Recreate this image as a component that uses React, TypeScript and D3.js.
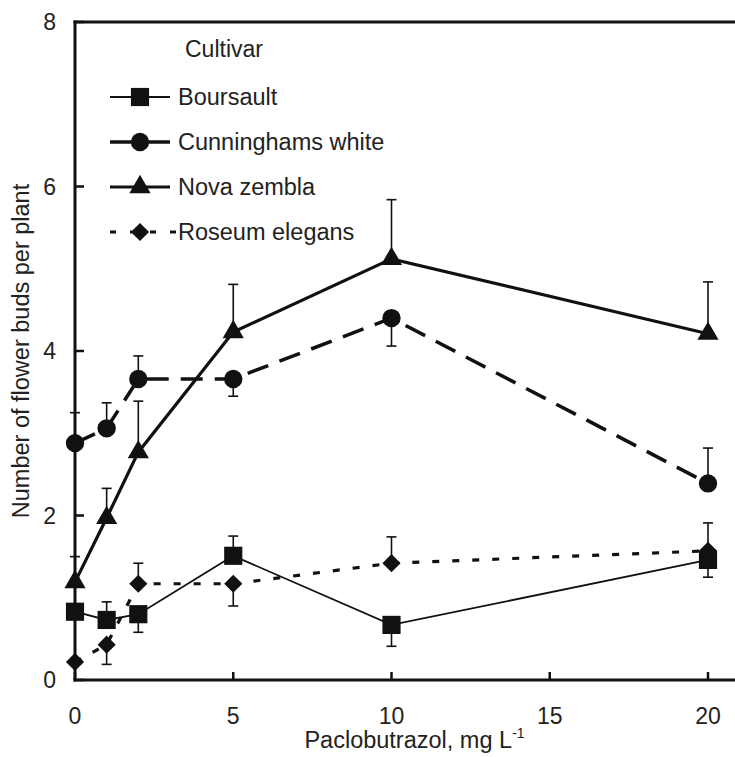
import React from "react";
import * as d3 from "d3";

const WIDTH = 735;
const HEIGHT = 757;

// paclobutrazol dose, mg/L
const doses = [0, 1, 2, 5, 10, 20];

// mean flower buds per plant
const boursault = [0.83, 0.73, 0.8, 1.51, 0.67, 1.46];
const cunninghams = [2.88, 3.06, 3.66, 3.66, 4.4, 2.39];
const novaZembla = [1.19, 1.97, 2.77, 4.23, 5.12, 4.21];
const roseum = [0.22, 0.43, 1.17, 1.17, 1.42, 1.57];

// one-sided standard errors (negative = drawn downward)
const boursaultErr = [0, 0.22, -0.22, 0.24, -0.26, -0.21];
const cunninghamsErr = [0.37, 0.31, 0.28, -0.21, -0.34, 0.43];
const novaZemblaErr = [0.31, 0.36, 0.62, 0.58, 0.72, 0.63];
const roseumErr = [0, -0.24, 0.25, -0.27, 0.32, 0.34];

const xTicks = [0, 5, 10, 15, 20];
const yTicks = [0, 2, 4, 6, 8];

const FONT = "'Liberation Sans', Arial, Helvetica, sans-serif";

type Series = {
  name: string;
  values: number[];
  errs: number[];
  marker: "square" | "circle" | "triangle" | "diamond";
  width: number;
  dash?: string;
  legendDash?: string;
};

const series: Series[] = [
  { name: "Boursault", values: boursault, errs: boursaultErr, marker: "square", width: 1.8 },
  { name: "Cunninghams white", values: cunninghams, errs: cunninghamsErr, marker: "circle", width: 3.5, dash: "22,12" },
  { name: "Nova zembla", values: novaZembla, errs: novaZemblaErr, marker: "triangle", width: 3.2 },
  { name: "Roseum elegans", values: roseum, errs: roseumErr, marker: "diamond", width: 3.2, dash: "7,13", legendDash: "6,14" },
];

const x = d3.scaleLinear().domain([0, 20]).range([75, 708]);
const y = d3.scaleLinear().domain([0, 8]).range([680, 22]);

const markerPath = (m: Series["marker"]) => {
  switch (m) {
    case "square":
      return d3.symbol(d3.symbolSquare, 330)()!;
    case "circle":
      return d3.symbol(d3.symbolCircle, 265)()!;
    case "triangle":
      return d3.symbol(d3.symbolTriangle, 195)()!;
    default:
      return d3.symbol(d3.symbolSquare, 165)()!;
  }
};

const Marker = ({ m, cx, cy }: { m: Series["marker"]; cx: number; cy: number }) => (
  <path
    d={markerPath(m)}
    fill="#111"
    transform={`translate(${cx},${cy})${m === "diamond" ? " rotate(45)" : ""}`}
  />
);

const App = () => {
  const line = d3
    .line<number>()
    .x((_, i) => x(doses[i]))
    .y(d => y(d));

  return (
    <div style={{ position: "absolute", left: 0, top: 0 }}>
      <svg width={WIDTH} height={HEIGHT} style={{ display: "block", background: "#fff" }} fontFamily={FONT}>
        {/* frame: left, bottom, top */}
        <g stroke="#111" strokeWidth={3} fill="none">
          <line x1={x(0)} x2={x(0)} y1={y(8) - 1.5} y2={y(0) + 1.5} />
          <line x1={x(0) - 1.5} x2={WIDTH} y1={y(0)} y2={y(0)} />
          <line x1={x(0) - 1.5} x2={WIDTH} y1={y(8)} y2={y(8)} />
        </g>

        {/* ticks */}
        <g stroke="#111" strokeWidth={2.5}>
          {xTicks.map(t => (
            <line key={`xt${t}`} x1={x(t)} x2={x(t)} y1={y(0)} y2={y(0) - 8} />
          ))}
          {yTicks.map(t => (
            <line key={`yt${t}`} x1={x(0)} x2={x(0) + 9} y1={y(t)} y2={y(t)} />
          ))}
        </g>
        <g fontSize={23} fill="#222">
          {xTicks.map(t => (
            <text key={`xl${t}`} x={x(t)} y={724} textAnchor="middle">
              {t}
            </text>
          ))}
          {yTicks.map(t => (
            <text key={`yl${t}`} x={56} y={y(t)} dy="0.35em" textAnchor="end">
              {t}
            </text>
          ))}
        </g>

        {/* axis titles */}
        <text x={(x(0) + x(20)) / 2 + 23} y={748} fontSize={23.5} textAnchor="middle" fill="#222">
          Paclobutrazol, mg L
          <tspan fontSize={14} dy={-10}>
            -1
          </tspan>
        </text>
        <text
          transform={`translate(29,${(y(0) + y(8)) / 2}) rotate(-90)`}
          fontSize={23.5}
          textAnchor="middle"
          fill="#222"
        >
          Number of flower buds per plant
        </text>

        {/* error bars */}
        <g stroke="#111" strokeWidth={1.6}>
          {series.map(s =>
            s.values.map((v, i) =>
              s.errs[i] === 0 ? null : (
                <g key={`${s.name}e${i}`}>
                  <line x1={x(doses[i])} x2={x(doses[i])} y1={y(v)} y2={y(v + s.errs[i])} />
                  <line x1={x(doses[i]) - 5} x2={x(doses[i]) + 5} y1={y(v + s.errs[i])} y2={y(v + s.errs[i])} />
                </g>
              )
            )
          )}
        </g>

        {/* series lines */}
        {series.map(s => (
          <path
            key={`${s.name}l`}
            d={line(s.values) || ""}
            fill="none"
            stroke="#111"
            strokeWidth={s.width}
            strokeDasharray={s.dash}
          />
        ))}

        {/* markers */}
        {series.map(s =>
          s.values.map((v, i) => <Marker key={`${s.name}m${i}`} m={s.marker} cx={x(doses[i])} cy={y(v)} />)
        )}

        {/* legend */}
        <text x={185} y={57} fontSize={23} fill="#222">
          Cultivar
        </text>
        {series.map((s, i) => {
          const ly = 97 + i * 45;
          return (
            <g key={`${s.name}lg`}>
              <line
                x1={110}
                x2={s.legendDash ? 178 : 170}
                y1={ly}
                y2={ly}
                stroke="#111"
                strokeWidth={s.width}
                strokeDasharray={s.legendDash}
              />
              <Marker m={s.marker} cx={140} cy={ly} />
              <text x={178} y={ly} dy="0.36em" fontSize={23.5} fill="#222">
                {s.name}
              </text>
            </g>
          );
        })}
      </svg>
    </div>
  );
};

export default App;
